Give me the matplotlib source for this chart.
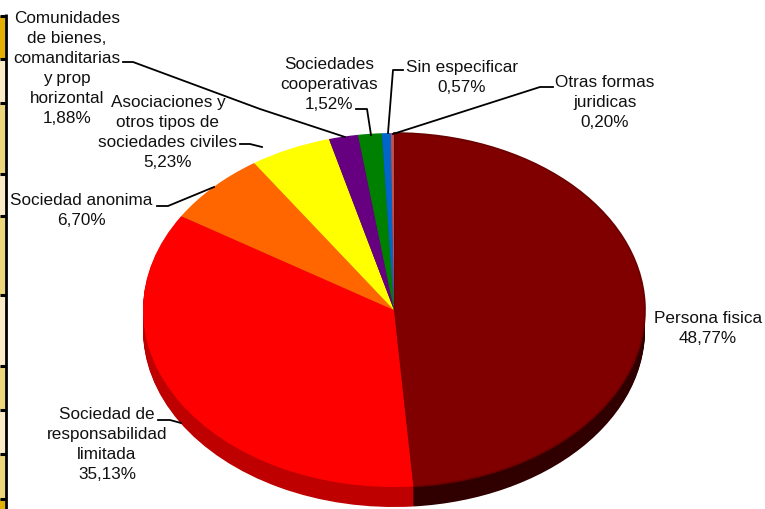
import matplotlib
matplotlib.use('Agg')
import matplotlib.pyplot as plt
from matplotlib.patches import Rectangle

plt.rcParams['font.family'] = ['Liberation Sans', 'DejaVu Sans']

W, H = 765, 509

labels = ['Persona fisica', 'Sociedad de\nresponsabilidad\nlimitada', 'Sociedad anonima',
          'Asociaciones y\notros tipos de\nsociedades civiles',
          'Comunidades\nde bienes,\ncomanditarias\ny prop\nhorizontal',
          'Sociedades\ncooperativas', 'Sin especificar', 'Otras formas\njuridicas']
shares = [48.77, 35.13, 6.70, 5.23, 1.88, 1.52, 0.57, 0.20]
share_text = ['48,77%', '35,13%', '6,70%', '5,23%', '1,88%', '1,52%', '0,57%', '0,20%']

top_colors = ['#800000', '#FF0000', '#FF6600', '#FFFF00', '#660080', '#008000', '#0066CC', '#C0504D']
side_colors = ['#300000', '#BE0000', '#C04C00', '#C0C000', '#4C0060', '#006000', '#004C99', '#903C3A']

# label centre x and top y, in picture pixels
label_x = [708, 107, 81, 168, 67, 329, 462, 605]
label_y = [311, 407, 193, 95, 11, 57, 60, 75]

# leader lines, in picture pixels
leaders = [
    ([123, 133, 260, 345], [62, 62, 109, 137]),
    ([240, 250, 262], [144, 144, 147]),
    ([157, 168, 214], [206, 206, 187]),
    ([158, 170, 181], [420, 420, 423]),
    ([356, 367, 371], [109, 109, 135]),
    ([403, 393, 388], [70, 70, 133]),
    ([553, 540, 393], [87, 87, 134]),
]

# left table strip: row edges and fills
strip_edges = [16, 59, 103, 174, 216, 295, 366, 410, 454, 499, 509]
strip_colors = ['#E3B000', '#FBEBC6', '#EDD67C', '#FBEBC6', '#EDD67C',
                '#FBEBC6', '#EDD67C', '#FBEBC6', '#EDD67C', '#E3B000']

cx, cy, rx, ry, depth = 394, 310, 251, 177, 20

fig = plt.figure(figsize=(W / 100, H / 100), dpi=100, facecolor='white')

# pie axes, stretched so the circle becomes the tilted ellipse
ax = fig.add_axes([0, 0, 1, 1])
for d in range(depth, 0, -1):
    ax.pie(shares, colors=side_colors, startangle=90, counterclock=False,
           center=(0, -d / ry), radius=1)
wedges, _ = ax.pie(shares, colors=top_colors, startangle=90, counterclock=False,
                   center=(0, 0), radius=1)
# the dark seam round the big slice
wedges[0].set_edgecolor('#6A0000')
wedges[0].set_linewidth(1.2)
ax.set_aspect('auto')
ax.set_xlim(-cx / rx, (W - cx) / rx)
ax.set_ylim((cy - H) / ry, cy / ry)
ax.axis('off')

# overlay in pixel coordinates
over = fig.add_axes([0, 0, 1, 1])
over.set_xlim(0, W)
over.set_ylim(H, 0)
over.axis('off')
over.patch.set_alpha(0)

for i, c in enumerate(strip_colors):
    over.add_patch(Rectangle((0, strip_edges[i]), 5, strip_edges[i + 1] - strip_edges[i],
                             facecolor=c, edgecolor='none'))
    over.plot([0, 6], [strip_edges[i], strip_edges[i]], color='black', lw=2.2,
              solid_capstyle='butt')
over.plot([5.8, 5.8], [14, H], color='black', lw=2, solid_capstyle='butt')

for xs, ys in leaders:
    over.plot(xs, ys, color='black', lw=1.3)

for name, val, x, y in zip(labels, share_text, label_x, label_y):
    over.text(x, y, name + '\n' + val, ha='center', va='top', fontsize=12.3,
              linespacing=1.41, color='#111111')

fig.savefig('out.png', dpi=100)
